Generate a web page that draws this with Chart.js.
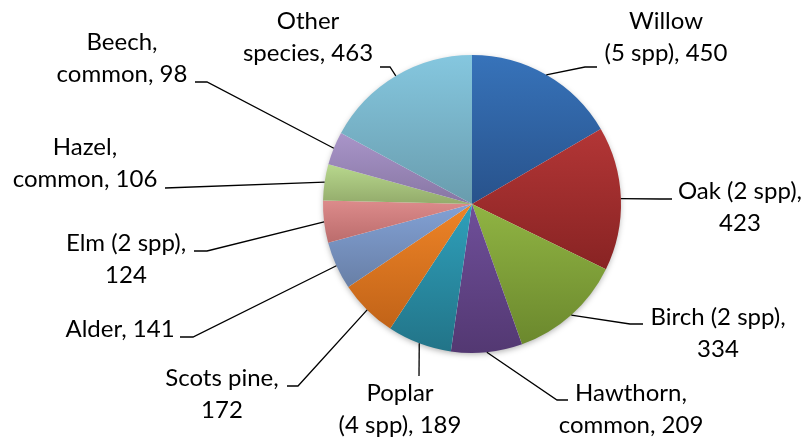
<!DOCTYPE html>
<html>
<head>
<meta charset="utf-8">
<script src="https://cdn.jsdelivr.net/npm/chart.js@4.4.0/dist/chart.umd.min.js"></script>
<style>
  html, body { margin: 0; padding: 0; background: #fff; }
  #wrap { width: 807px; height: 444px; position: relative; }
</style>
</head>
<body>
<div id="wrap"><canvas id="treeChart"></canvas></div>
<script>
// tree species counts
const species = [
  "Willow (5 spp)", "Oak (2 spp)", "Birch (2 spp)", "Hawthorn, common",
  "Poplar (4 spp)", "Scots pine", "Alder", "Elm (2 spp)",
  "Hazel, common", "Beech, common", "Other species"
];
const counts = [450, 423, 334, 209, 189, 172, 141, 124, 106, 98, 463];

// slice colours: light (top of slice) -> dark (bottom of slice)
const topColors = ["#3773BA", "#B33636", "#90B443", "#6F4F9A", "#2FA0BB", "#EE8427",
  "#82A1D5", "#DC8B8B", "#B8D88D", "#A995C9", "#85C7DF"];
const bottomColors = ["#28528B", "#882323", "#6B882D", "#533872", "#227488", "#C16318",
  "#687FA6", "#BB6C6C", "#93AB6B", "#8776A3", "#699CAD"];

// label placement, relative to pie centre: text centre, first line y,
// leader elbow and end, number of words on the first line
const labelLayout = [
  { tx: 194, ty: -183, ex: 113, ey: -137, fx: 125, fy: -137, n: 1 },
  { tx: 268, ty: -13, ex: 188, ey: -5, fx: 200, fy: -5, n: 3 },
  { tx: 246, ty: 113, ex: 158, ey: 120, fx: 171, fy: 120, n: 3 },
  { tx: 159, ty: 189, ex: 85, ey: 196, fx: 96, fy: 196, n: 1 },
  { tx: -72, ty: 189, ex: -53, ey: 172, fx: -53, fy: 172, n: 1 },
  { tx: -250, ty: 174, ex: -174, ey: 182, fx: -185, fy: 182, n: 2 },
  { tx: -352, ty: 125, ex: -279, ey: 133, fx: -292, fy: 133, n: 9 },
  { tx: -346, ty: 39, ex: -265, ey: 47, fx: -278, fy: 47, n: 3 },
  { tx: -387, ty: -57, ex: -307, ey: -16, fx: -307, fy: -16, n: 1 },
  { tx: -350, ty: -162, ex: -265, ey: -122, fx: -277, fy: -122, n: 1 },
  { tx: -164, ty: -183, ex: -82, ey: -137, fx: -92, fy: -137, n: 1 }
];

const LABEL_FONT = "24px Lato, 'Open Sans', sans-serif";
const LINE_GAP = 32;

// vertical extent of an arc (for the per-slice gradient)
function arcYRange(el) {
  const { x, y, startAngle, endAngle, outerRadius } = el.getProps(
    ["x", "y", "startAngle", "endAngle", "outerRadius"], true);
  let minY = y, maxY = y;
  const pts = [startAngle, endAngle];
  for (let k = -4; k <= 8; k++) {
    const a = k * Math.PI / 2;
    if (a > startAngle && a < endAngle) pts.push(a);
  }
  pts.forEach(a => {
    const py = y + Math.sin(a) * outerRadius;
    minY = Math.min(minY, py);
    maxY = Math.max(maxY, py);
  });
  return [minY, maxY];
}

const shadingPlugin = {
  id: "shading",
  beforeDatasetsDraw(chart) {
    const ctx = chart.ctx;
    const arcs = chart.getDatasetMeta(0).data;
    if (!arcs.length) return;
    const { x, y, outerRadius } = arcs[0].getProps(["x", "y", "outerRadius"], true);
    // soft shadow under the pie
    ctx.save();
    ctx.shadowColor = "rgba(0,0,0,0.35)";
    ctx.shadowBlur = 6;
    ctx.shadowOffsetY = 2;
    ctx.fillStyle = "#ffffff";
    ctx.beginPath();
    ctx.arc(x, y, outerRadius - 1, 0, Math.PI * 2);
    ctx.fill();
    ctx.restore();
    arcs.forEach((el, i) => {
      const [y0, y1] = arcYRange(el);
      const g = ctx.createLinearGradient(0, y0, 0, y1);
      g.addColorStop(0, topColors[i]);
      g.addColorStop(1, bottomColors[i]);
      el.options.backgroundColor = g;
    });
  }
};

const labelPlugin = {
  id: "leaderLabels",
  afterDatasetsDraw(chart) {
    const ctx = chart.ctx;
    const arcs = chart.getDatasetMeta(0).data;
    ctx.save();
    ctx.font = LABEL_FONT;
    ctx.fillStyle = "#000000";
    ctx.strokeStyle = "#000000";
    ctx.lineWidth = 1.3;
    ctx.textAlign = "center";
    ctx.textBaseline = "middle";
    arcs.forEach((el, i) => {
      const { x, y, startAngle, endAngle, outerRadius } = el.getProps(
        ["x", "y", "startAngle", "endAngle", "outerRadius"], true);
      const mid = (startAngle + endAngle) / 2;
      const L = labelLayout[i];
      const sx = x + Math.cos(mid) * outerRadius;
      const sy = y + Math.sin(mid) * outerRadius;
      ctx.beginPath();
      ctx.moveTo(sx, sy);
      ctx.lineTo(x + L.ex, y + L.ey);
      ctx.lineTo(x + L.fx, y + L.fy);
      ctx.stroke();

      const words = (species[i] + ", " + counts[i]).split(" ");
      const lines = [words.slice(0, L.n).join(" ")];
      if (words.length > L.n) lines.push(words.slice(L.n).join(" "));
      lines.forEach((t, k) => ctx.fillText(t, x + L.tx, y + L.ty + k * LINE_GAP));
    });
    ctx.restore();
  }
};

const ctx = document.getElementById("treeChart");

new Chart(ctx, {
  type: "pie",
  data: {
    labels: species,
    datasets: [{
      data: counts,
      backgroundColor: topColors,
      borderWidth: 0
    }]
  },
  options: {
    responsive: true,
    maintainAspectRatio: false,
    animation: false,
    layout: { padding: { left: 323, right: 186, top: 55, bottom: 91 } },
    plugins: {
      legend: { display: false },
      tooltip: { enabled: false }
    }
  },
  plugins: [shadingPlugin, labelPlugin]
});
</script>
</body>
</html>
